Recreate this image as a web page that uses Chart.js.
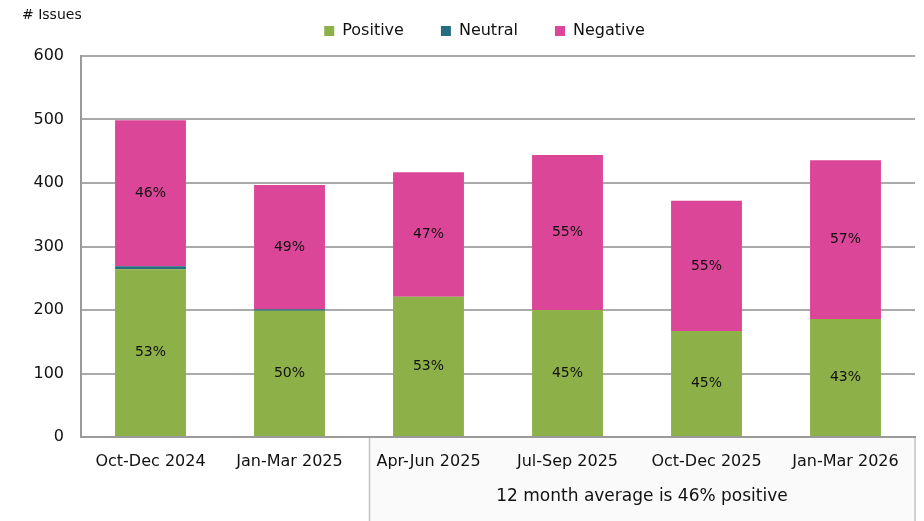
<!DOCTYPE html>
<html lang="en">
<head>
  <meta charset="UTF-8">
  <title>Issues by sentiment</title>
  <script src="https://cdn.jsdelivr.net/npm/chart.js"></script>
  <style>
    html, body { margin: 0; padding: 0; background: #fff; }
    #wrap { width: 924px; height: 521px; }
  </style>
</head>
<body>
  <div id="wrap"><canvas id="issuesChart" width="924" height="521"></canvas></div>

  <script>
    const quarters = ["Oct-Dec 2024", "Jan-Mar 2025", "Apr-Jun 2025", "Jul-Sep 2025", "Oct-Dec 2025", "Jan-Mar 2026"];
    const positive = [264, 199, 221, 200, 167, 186];
    const neutral = [5, 2, 0, 0, 0, 0];
    const negative = [230, 196, 196, 244, 205, 250];
    const positivePct = ["53%", "50%", "53%", "45%", "45%", "43%"];
    const negativePct = ["46%", "49%", "47%", "55%", "55%", "57%"];
    const yTicks = [0, 100, 200, 300, 400, 500, 600];
    const noteText = "12 month average is 46% positive";

    const FONT = "'DejaVu Sans', sans-serif";

    // fixed legend height, and legend nudged to where the original has it
    const legendTweak = {
      id: "legendTweak",
      afterInit(chart) {
        const legend = chart.legend;
        const origFit = legend.fit;
        legend.fit = function () {
          origFit.call(this);
          this.height = 56;
        };
        const origDraw = legend.draw;
        legend.draw = function (...args) {
          this.ctx.save();
          this.ctx.translate(27, -14);
          origDraw.apply(this, args);
          this.ctx.restore();
        };
      }
    };

    // "# Issues" caption and the grey note box under the last four quarters
    const decorations = {
      id: "decorations",
      beforeDraw(chart) {
        const ctx = chart.ctx;
        const area = chart.chartArea;
        ctx.save();
        ctx.fillStyle = "#fafafa";
        ctx.strokeStyle = "#c4c4c4";
        ctx.lineWidth = 1.5;
        ctx.fillRect(369, area.bottom, area.right - 369, 100);
        ctx.strokeRect(369.5, area.bottom, area.right - 369.5, 100);
        ctx.fillStyle = "#111";
        ctx.font = "17px " + FONT;
        ctx.textAlign = "center";
        ctx.textBaseline = "middle";
        ctx.fillText(noteText, (369 + area.right) / 2, 497);
        ctx.font = "14px " + FONT;
        ctx.textAlign = "left";
        ctx.fillText("# Issues", 22, 15);
        ctx.restore();
      }
    };

    const pctLabels = {
      id: "pctLabels",
      afterDatasetsDraw(chart) {
        const ctx = chart.ctx;
        ctx.save();
        ctx.font = "14px " + FONT;
        ctx.fillStyle = "#111";
        ctx.textAlign = "center";
        ctx.textBaseline = "middle";
        [[0, positivePct], [2, negativePct]].forEach(([idx, labels]) => {
          chart.getDatasetMeta(idx).data.forEach((bar, i) => {
            ctx.fillText(labels[i], bar.x, (bar.y + bar.base) / 2);
          });
        });
        ctx.restore();
      }
    };

    new Chart(document.getElementById("issuesChart"), {
      type: "bar",
      data: {
        labels: quarters,
        datasets: [
          { label: "Positive", data: positive, backgroundColor: "#8db048" },
          { label: "Neutral", data: neutral, backgroundColor: "#266d80" },
          { label: "Negative", data: negative, backgroundColor: "#db4698" }
        ]
      },
      options: {
        responsive: false,
        animation: false,
        layout: { padding: { left: 0, right: 9, top: 0, bottom: 0 } },
        datasets: { bar: { barPercentage: 0.51, categoryPercentage: 1 } },
        scales: {
          x: {
            stacked: true,
            grid: { display: false },
            border: { color: "#9a9a9a", width: 2 },
            ticks: { color: "#111", font: { family: FONT, size: 16 }, padding: 7, maxRotation: 0 },
            afterFit(scale) { scale.height = 84; }
          },
          y: {
            stacked: true,
            min: 0,
            max: 600,
            afterBuildTicks(scale) { scale.ticks = yTicks.map(v => ({ value: v })); },
            grid: { color: "#aaaaaa", lineWidth: 2, drawTicks: false },
            border: { color: "#9a9a9a", width: 2 },
            ticks: { color: "#111", font: { family: FONT, size: 16 }, padding: 17 },
            afterFit(scale) { scale.width = 81; }
          }
        },
        plugins: {
          legend: {
            position: "top",
            labels: {
              boxWidth: 10,
              boxHeight: 10,
              padding: 37,
              color: "#111",
              font: { family: FONT, size: 16 }
            }
          },
          tooltip: { enabled: false }
        }
      },
      plugins: [legendTweak, decorations, pctLabels]
    });
  </script>
</body>
</html>
